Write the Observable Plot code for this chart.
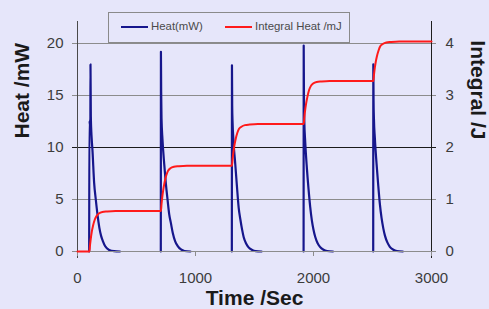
<!DOCTYPE html>
<html><head><meta charset="utf-8">
<script src="https://cdn.jsdelivr.net/npm/d3@7"></script>
<script src="https://cdn.jsdelivr.net/npm/@observablehq/plot@0.6"></script>
<style>
html,body{margin:0;padding:0;background:#e6e6fa;}
#wrap{position:relative;width:489px;height:309px;overflow:hidden;background:#e6e6fa;}
#wrap svg{position:absolute;left:0;top:0;}
#legend{position:absolute;left:108px;top:12px;width:242px;height:31px;border:1px solid #8a8a8a;box-sizing:border-box;background:#e6e6fa;font:11.4px "Liberation Sans",Arial,sans-serif;color:#4a4a4a;}
#legend .sw{position:absolute;top:13px;width:27px;height:2px;}
#legend .lb{position:absolute;top:7px;white-space:nowrap;}
</style></head><body><div id="wrap"></div>
<script>
// ---- data ----
const xTicks = [0, 1000, 2000, 3000];
const heatTicks = [0, 5, 10, 15, 20];
const seriesNames = ["Heat(mW)", "Integral Heat /mJ"];

const pulse1Time = [99, 100, 109, 110, 113, 120, 127, 141, 155, 170, 185, 200, 215, 235, 268, 310, 360];
const pulse1Heat = [0, 12.6, 12.0, 18.0, 13.0, 10.9, 9.7, 6.6, 5.0, 3.5, 2.3, 1.5, 1.0, 0.5, 0.15, 0.03, 0];
const pulse2Time = [706, 707, 709, 712, 720, 735, 749, 764, 777, 792, 807, 827, 848, 877, 907, 957];
const pulse2Heat = [0, 19.2, 15.4, 12.8, 10.8, 8.4, 6.5, 4.9, 3.6, 2.7, 1.8, 1.0, 0.55, 0.2, 0.05, 0];
const pulse3Time = [1308, 1309, 1311, 1314, 1322, 1337, 1351, 1366, 1380, 1395, 1408, 1430, 1450, 1480, 1510, 1560];
const pulse3Heat = [0, 17.9, 14.0, 12.5, 10.6, 8.4, 6.3, 4.2, 3.1, 2.1, 1.4, 0.75, 0.4, 0.15, 0.04, 0];
const pulse4Time = [1916, 1917, 1919, 1922, 1930, 1944, 1958, 1972, 1986, 2000, 2015, 2035, 2055, 2085, 2115, 2165];
const pulse4Heat = [0, 19.8, 15.0, 12.6, 10.5, 8.0, 6.0, 4.3, 3.0, 2.1, 1.4, 0.8, 0.45, 0.17, 0.05, 0];
const pulse5Time = [2506, 2507, 2509, 2512, 2520, 2534, 2549, 2563, 2577, 2592, 2606, 2627, 2647, 2677, 2707, 2757];
const pulse5Heat = [0, 18.0, 14.5, 12.8, 10.9, 8.5, 6.3, 4.5, 3.2, 2.2, 1.5, 0.85, 0.45, 0.17, 0.05, 0];

const integralTime = [0, 101, 106, 111, 121, 131, 146, 161, 181, 211, 251, 321,
  707, 712, 717, 727, 737, 752, 767, 787, 817, 857, 927,
  1309, 1314, 1319, 1329, 1339, 1354, 1369, 1389, 1419, 1459, 1529,
  1917, 1922, 1927, 1937, 1947, 1962, 1977, 1997, 2027, 2067, 2137,
  2507, 2512, 2517, 2527, 2537, 2552, 2567, 2587, 2617, 2657, 2727, 3000];
const integralJ = [0, 0, 0.12, 0.22, 0.38, 0.49, 0.61, 0.68, 0.73, 0.76, 0.77, 0.78,
  0.78, 0.91, 1.02, 1.19, 1.32, 1.46, 1.55, 1.60, 1.63, 1.64, 1.65,
  1.65, 1.77, 1.87, 2.03, 2.15, 2.28, 2.36, 2.40, 2.43, 2.44, 2.45,
  2.45, 2.57, 2.68, 2.84, 2.96, 3.10, 3.18, 3.23, 3.26, 3.27, 3.28,
  3.28, 3.39, 3.49, 3.64, 3.75, 3.87, 3.95, 3.99, 4.02, 4.03, 4.04, 4.04];

// ---- build tables ----
const pulses = [[pulse1Time, pulse1Heat], [pulse2Time, pulse2Heat], [pulse3Time, pulse3Heat], [pulse4Time, pulse4Heat], [pulse5Time, pulse5Heat]];
const heatRows = pulses.flatMap(([ts, vs], p) => ts.map((t, k) => ({t, v: vs[k], p})));
const integralRows = integralTime.map((t, i) => ({t, j: integralJ[i]}));

const BLUE = "#16168c", RED = "#ff1a1a", GRID = "#8c8c8c", DARK = "#1a1a1a";
const FONT = "Liberation Sans, Arial, sans-serif";

const chart = Plot.plot({
  width: 489, height: 309,
  marginLeft: 77, marginRight: 58, marginTop: 43, marginBottom: 58,
  style: {background: "transparent", fontFamily: FONT},
  x: {domain: [0, 3000]},
  y: {domain: [0, 20]},
  marks: [
    Plot.ruleY(heatTicks.filter(d => d !== 10 && d !== 0), {insetLeft: -5, insetRight: -5, stroke: GRID}),
    Plot.ruleY([10], {insetLeft: -5, insetRight: -5, stroke: DARK}),
    Plot.line(heatRows, {x: "t", y: "v", z: "p", stroke: BLUE, strokeWidth: 2.2, curve: "monotone-x"}),
    Plot.ruleY([0], {insetLeft: -5, insetRight: -5, stroke: GRID}),
    Plot.ruleX([0], {insetTop: -22, insetBottom: -7, stroke: "#4a4a4a"}),
    Plot.ruleX([3000], {insetTop: -22, insetBottom: -7, stroke: "#1e1e1e"}),
    Plot.axisX({ticks: xTicks, tickFormat: d => String(d), tickSize: 5, tickPadding: 16, stroke: GRID, fill: "#3c3c3c", fontSize: 15, label: null}),
    Plot.axisY({anchor: "left", ticks: heatTicks, tickFormat: d => String(d), tickSize: 0, tickPadding: 14, fill: "#3c3c3c", fontSize: 15, label: null}),
    Plot.axisY({anchor: "right", ticks: heatTicks, tickFormat: d => String(d / 5), tickSize: 0, tickPadding: 14, fill: "#3c3c3c", fontSize: 15, label: null}),
    Plot.line(integralRows, {x: "t", y: d => d.j * 5, stroke: RED, strokeWidth: 2, curve: "monotone-x"}),
    Plot.text(["Time /Sec"], {text: d => d, frameAnchor: "bottom", dy: 53, fontSize: 21, fontWeight: "bold", fill: DARK}),
    Plot.text(["Heat /mW"], {text: d => d, frameAnchor: "left", dx: -55, dy: -9, rotate: -90, fontSize: 21, fontWeight: "bold", fill: DARK}),
    Plot.text(["Integral /J"], {text: d => d, frameAnchor: "right", dx: 46, dy: -8, rotate: 90, fontSize: 21, fontWeight: "bold", fill: DARK})
  ]
});

const wrap = document.getElementById("wrap");
wrap.appendChild(chart);
const legend = document.createElement("div");
legend.id = "legend";
legend.innerHTML =
  `<div class="sw" style="left:12px;background:${BLUE}"></div><div class="lb" style="left:42px">${seriesNames[0]}</div>` +
  `<div class="sw" style="left:116px;background:${RED}"></div><div class="lb" style="left:146px">${seriesNames[1]}</div>`;
wrap.appendChild(legend);
</script></body></html>
